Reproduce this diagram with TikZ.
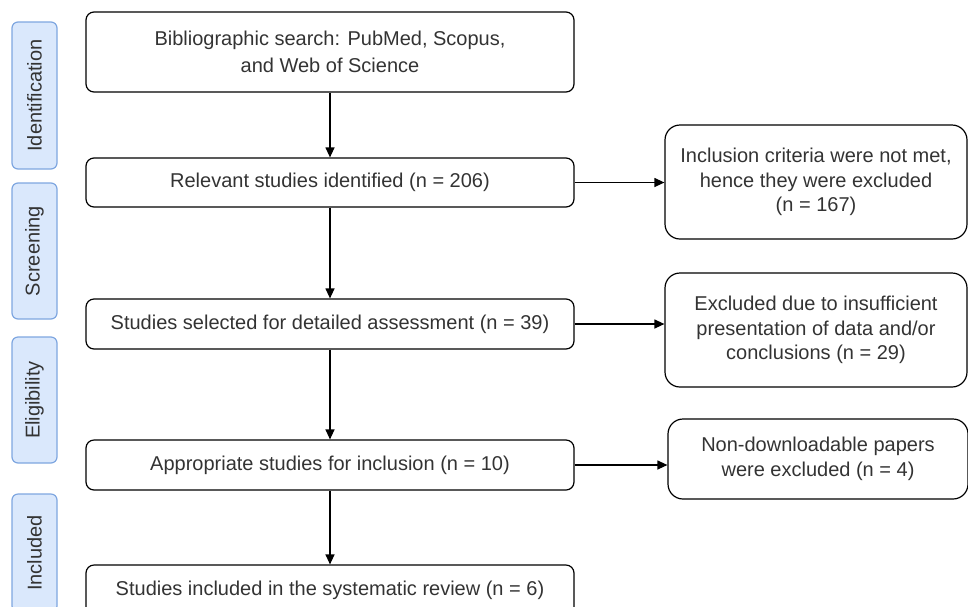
\documentclass[tikz,border=0pt]{standalone}
\usepackage{fontspec}
\setmainfont{Liberation Sans}
\usetikzlibrary{positioning,arrows.meta}
\definecolor{phasefill}{HTML}{DAE8FC}
\definecolor{phaseline}{HTML}{7EA6E0}
\definecolor{textgray}{HTML}{333333}

\begin{document}
\begin{tikzpicture}[x=1pt, y=-1pt,
    every node/.style={font=\fontsize{20}{24.5}\selectfont, text=textgray},
    stagebox/.style={draw, line width=1.2pt, rounded corners=8pt, align=center, minimum width=488pt, inner sep=0pt},
    sidebox/.style={draw, line width=1.2pt, rounded corners=15pt, align=center, minimum width=302pt, inner sep=0pt},
    phase/.style={draw=phaseline, fill=phasefill, line width=1.2pt, rounded corners=6pt, rotate=90, minimum height=45pt, inner sep=0pt, font=\fontsize{20}{24}\selectfont},
    flow/.style={-{Triangle[length=10pt,width=9pt]}, line width=1.2pt}
  ]
    \useasboundingbox (0,0) rectangle (968,606);

    % phases on the left
    \node[phase, minimum width=147pt] (ident) at (34.5,95.5) {Identification};
    \node[phase, minimum width=136pt] (screen) at (34.5,251) {Screening};
    \node[phase, minimum width=126pt] (elig) at (34.5,400) {Eligibility};
    \node[phase, minimum width=118pt] (incl) at (34.5,553) {Included};

    % main flow
    \node[stagebox, minimum height=80pt, font=\fontsize{20}{26.5}\selectfont] (search) at (330,52) {Bibliographic search: PubMed, Scopus,\\ and Web of Science};
    \node[stagebox, minimum height=49pt] (relevant) at (330,182.5) {Relevant studies identified (n = 206)};
    \node[stagebox, minimum height=50pt] (selected) at (330,324) {Studies selected for detailed assessment (n = 39)};
    \node[stagebox, minimum height=50pt] (appropriate) at (330,465) {Appropriate studies for inclusion (n = 10)};
    \node[stagebox, minimum height=50pt] (included) at (330,590) {Studies included in the systematic review (n = 6)};

    % exclusions
    \node[sidebox, minimum height=114pt] (notmet) at (816,182) {Inclusion criteria were not met,\\ hence they were excluded\\ (n = 167)};
    \node[sidebox, minimum height=114pt] (nodata) at (816,330) {Excluded due to insufficient\\ presentation of data and/or\\ conclusions (n = 29)};
    \node[sidebox, minimum height=80pt, minimum width=300pt] (nodown) at (818,459) {Non-downloadable papers\\ were excluded (n = 4)};

    \draw[flow] (search) -- (relevant);
    \draw[flow] (relevant) -- (selected);
    \draw[flow] (selected) -- (appropriate);
    \draw[flow] (appropriate) -- (included);

    \draw[flow] (relevant.east) -- (relevant.east -| notmet.west);
    \draw[flow] (selected.east) -- (selected.east -| nodata.west);
    \draw[flow] (appropriate.east) -- (appropriate.east -| nodown.west);
\end{tikzpicture}
\end{document}
